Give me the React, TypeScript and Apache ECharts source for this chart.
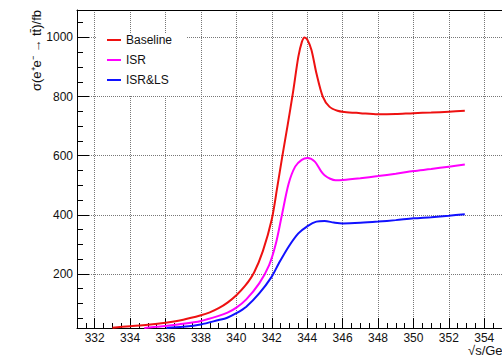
import React, { useEffect, useRef } from "react";
import * as echarts from "echarts";

// ---- data ----
const baselineE = [333.0, 334.0, 335.0, 336.0, 337.0, 338.0, 338.5, 339.0, 339.5, 340.0, 340.5, 341.0, 341.5, 342.0, 342.3, 342.6, 342.9, 343.2, 343.5, 343.7, 343.85, 344.0, 344.24, 344.52, 344.88, 345.25, 345.71, 346.1, 347.0, 348.0, 349.0, 350.0, 351.0, 352.0, 352.9];
const baselineSigma = [18, 23, 28, 35, 45, 60, 70, 84, 103, 128, 160, 205, 278, 385, 490, 600, 705, 815, 935, 985, 1000, 993, 958, 879, 800, 766, 752, 748, 744, 740, 741, 744, 746, 749, 752];

const isrE = [334.8, 335.5, 336.0, 337.0, 338.0, 339.0, 339.5, 340.0, 340.56, 341.29, 341.85, 342.22, 342.58, 342.95, 343.32, 343.69, 344.02, 344.43, 344.8, 344.98, 345.3, 345.6, 346.0, 347.0, 348.0, 349.0, 350.0, 351.0, 352.0, 352.9];
const isrSigma = [17, 21, 24, 31, 41, 58, 69, 86, 114, 168, 230, 300, 402, 505, 563, 586, 592, 580, 546, 534, 522, 517, 518, 524, 531, 539, 548, 555, 563, 570];

const isrLsE = [336.05, 337.0, 338.0, 339.0, 339.45, 340.0, 340.56, 341.29, 341.99, 342.4, 342.95, 343.5, 344.02, 344.52, 344.98, 345.5, 346.0, 347.0, 348.0, 349.0, 350.0, 351.0, 352.0, 352.9];
const isrLsSigma = [17, 21, 29, 44, 51, 67, 89, 134, 190, 236, 292, 337, 362, 377, 379, 374, 371, 373, 377, 382, 388, 392, 397, 402];

const yMinorTicks = [50, 100, 150, 250, 300, 350, 450, 500, 550, 650, 700, 750, 850, 900, 950, 1050];

const seriesNames = ["Baseline", "ISR", "ISR&LS"];
const seriesColors = ["#ee1111", "#ff00ff", "#1111ff"];

const X_MIN = 331;
const X_MAX = 355;
const Y_MIN = 17;
const Y_MAX = 1093;

const FONT = '"Liberation Sans", Arial, sans-serif';

function pairs(xs: number[], ys: number[]) {
  return xs.map((x, i) => [x, ys[i]]);
}

export default function App() {
  const ref = useRef<HTMLDivElement>(null);
  useEffect(() => {
    if (!ref.current) return;
    const chart = echarts.init(ref.current, undefined, { renderer: "svg" });
    const dataSets = [
      pairs(baselineE, baselineSigma),
      pairs(isrE, isrSigma),
      pairs(isrLsE, isrLsSigma),
    ];
    const gridLine = {
      show: true,
      showMinLine: false,
      showMaxLine: false,
      lineStyle: { color: "#777777", type: "dotted", width: 1 },
    };
    chart.setOption({
      animation: false,
      backgroundColor: "#ffffff",
      grid: {
        left: 77,
        top: 10,
        width: 434,
        height: 318,
        show: false,
      },
      legend: {
        data: seriesNames,
        orient: "vertical",
        left: 96,
        top: 33,
        padding: [1, 15, 9, 11],
        backgroundColor: "#ffffff",
        icon: "rect",
        itemWidth: 14,
        itemHeight: 2,
        itemGap: 8,
        textStyle: { fontFamily: FONT, fontSize: 12, color: "#111" },
      },
      xAxis: [
        {
          type: "value",
          min: X_MIN,
          max: X_MAX,
          splitNumber: 12,
          position: "bottom",
          axisLine: { show: true, lineStyle: { color: "#000", width: 1 } },
          axisTick: { show: true, inside: true, length: 10, lineStyle: { color: "#000" } },
          axisLabel: {
            show: true,
            showMinLabel: false,
            showMaxLabel: false,
            margin: 4,
            fontFamily: FONT,
            fontSize: 12,
            color: "#111",
            formatter: (v: number) => String(v),
          },
          splitLine: gridLine,
        },
        {
          type: "value",
          min: X_MIN,
          max: X_MAX,
          interval: 0.5,
          position: "bottom",
          axisLine: { show: false },
          axisTick: { show: true, inside: true, length: 5, lineStyle: { color: "#000" } },
          axisLabel: { show: false },
          splitLine: { show: false },
        },
        {
          type: "value",
          min: X_MIN,
          max: X_MAX,
          position: "top",
          axisLine: { show: true, lineStyle: { color: "#000", width: 1 } },
          axisTick: { show: false },
          axisLabel: { show: false },
          splitLine: { show: false },
        },
      ],
      yAxis: [
        {
          type: "value",
          min: Y_MIN,
          max: Y_MAX,
          splitNumber: 5,
          position: "left",
          axisLine: { show: true, lineStyle: { color: "#000", width: 1 } },
          axisTick: { show: true, inside: true, length: 12, lineStyle: { color: "#000" } },
          axisLabel: {
            show: true,
            showMinLabel: false,
            showMaxLabel: false,
            margin: 4,
            fontFamily: FONT,
            fontSize: 12,
            color: "#111",
            formatter: (v: number) => String(v),
          },
          splitLine: gridLine,
        },
        {
          type: "value",
          min: Y_MIN,
          max: Y_MAX,
          position: "left",
          axisLine: { show: false },
          axisTick: { show: true, inside: true, length: 6, customValues: yMinorTicks, lineStyle: { color: "#000" } },
          axisLabel: { show: false, customValues: yMinorTicks },
          splitLine: { show: false },
        },
      ],
      series: seriesNames.map((name, i) => ({
        name,
        type: "line",
        xAxisIndex: 0,
        yAxisIndex: 0,
        data: dataSets[i],
        showSymbol: false,
        symbol: "none",
        smooth: 0.3,
        clip: true,
        lineStyle: { color: seriesColors[i], width: 2 },
        itemStyle: { color: seriesColors[i] },
      })),
      graphic: [
        {
          type: "text",
          x: 36,
          y: 10,
          rotation: Math.PI / 2,
          style: {
            text: "σ(e⁺e⁻ → tt̄)/fb",
            font: `13px ${FONT}`,
            fill: "#111",
            textAlign: "right",
            textVerticalAlign: "middle",
          },
        },
        {
          type: "text",
          x: 468,
          y: 350,
          style: {
            text: "√s/GeV",
            font: `13px ${FONT}`,
            fill: "#111",
            textAlign: "left",
            textVerticalAlign: "middle",
          },
        },
      ],
    });
    return () => chart.dispose();
  }, []);
  return (
    <div
      ref={ref}
      style={{ position: "fixed", left: 0, top: 0, width: 502, height: 357, background: "#fff" }}
    />
  );
}
